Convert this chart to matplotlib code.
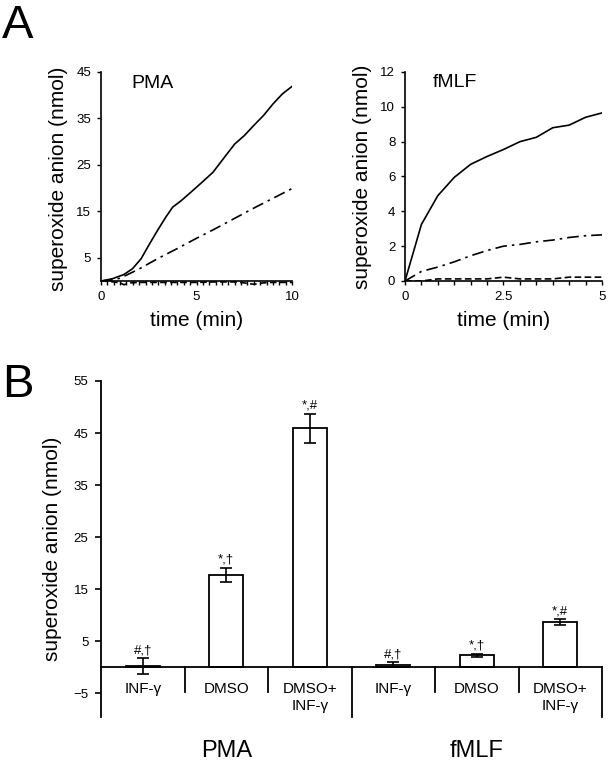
import numpy as np
import matplotlib
matplotlib.use("Agg")
import matplotlib.pyplot as plt
from matplotlib.ticker import MultipleLocator

plt.rcParams['font.family'] = ['Liberation Sans', 'DejaVu Sans']

# === Panel A data
pma_time = [0, 0.6, 1.2, 1.65, 2.1, 2.5, 2.96, 3.4, 3.75, 4.2, 4.7, 5.3, 5.86,
            6.4, 7.0, 7.5, 8.0, 8.5, 9.0, 9.5, 10]
pma_combo = [0, 0.5, 1.4, 2.65, 4.8, 7.7, 10.9, 13.8, 15.9, 17.3, 19.1, 21.3, 23.4,
             26.3, 29.5, 31.3, 33.5, 35.6, 38.1, 40.3, 41.9]
pma_dmso_time = [0, 0.5, 1, 2, 3, 4, 5, 6, 7, 8, 9, 10]
pma_dmso = [0, 0.2, 0.6, 2.6, 4.9, 7.0, 9.2, 11.3, 13.5, 15.7, 17.8, 19.9]
pma_inf_time = [0, 0.5, 1.0, 1.2, 1.5, 2, 3, 4, 5, 6, 7, 7.5, 8, 8.5, 9, 10]
pma_inf = [0, -0.1, -0.4, -0.8, -0.4, -0.3, -0.3, -0.3, -0.3, -0.2, -0.2, -0.4, -0.7, -0.4, -0.3, -0.3]

fmlf_time = [0, 0.417, 0.833, 1.25, 1.667, 2.083, 2.5, 2.917, 3.333, 3.75, 4.167, 4.583, 5]
fmlf_combo = [0, 3.25, 4.9, 5.95, 6.7, 7.15, 7.55, 8.0, 8.25, 8.8, 8.95, 9.4, 9.65]
fmlf_dmso = [0, 0.55, 0.8, 1.1, 1.45, 1.75, 2.0, 2.1, 2.25, 2.35, 2.5, 2.6, 2.65]
fmlf_inf = [0, 0.0, 0.12, 0.12, 0.12, 0.12, 0.22, 0.12, 0.12, 0.12, 0.22, 0.22, 0.22]

# === Panel B data
groups = ["PMA", "fMLF"]
treatments = ["INF-\u03b3", "DMSO", "DMSO+\nINF-\u03b3"]
bar_means = [0.2, 17.7, 45.9, 0.45, 2.25, 8.6]
bar_errs = [1.5, 1.4, 2.8, 0.5, 0.25, 0.6]
bar_marks = ["#,\u2020", "*,\u2020", "*,#", "#,\u2020", "*,\u2020", "*,#"]

fig = plt.figure(figsize=(6.09, 7.67), dpi=100)

lw = 1.2
dashdot = (0, (7, 3, 1.5, 3))
dashed = (0, (4, 2))


def style_line_axes(ax, ymax):
    for s in ["top", "right"]:
        ax.spines[s].set_visible(False)
    ax.spines["bottom"].set_position(("data", 0))
    ax.spines["left"].set_bounds(0, ymax)
    ax.spines["left"].set_linewidth(1.2)
    ax.spines["bottom"].set_linewidth(1.2)
    ax.tick_params(direction="out", length=3, width=1, labelsize=9.5, pad=4)
    ax.tick_params(axis="x", which="minor", direction="out", length=3, width=1)
    ax.set_xlabel("time (min)", fontsize=15, labelpad=6)
    ax.set_ylabel("superoxide anion (nmol)", fontsize=15, labelpad=6)


# --- A left: PMA
ax1 = fig.add_axes([101 / 609, 1 - 286.6 / 767, 191 / 609, 214.6 / 767])
ax1.plot(pma_time, pma_combo, color="black", lw=lw)
ax1.plot(pma_dmso_time, pma_dmso, color="black", lw=lw, linestyle=dashdot)
ax1.plot(pma_inf_time, pma_inf, color="black", lw=lw, linestyle=dashed)
ax1.set_xlim(0, 10)
ax1.set_ylim(-1.2, 45)
ax1.set_yticks([5, 15, 25, 35, 45])
ax1.set_xticks([0, 5, 10])
ax1.xaxis.set_minor_locator(MultipleLocator(1 / 3))
style_line_axes(ax1, 45)
ax1.text(2.7, 42.5, "PMA", fontsize=14, va="center", ha="center")

# --- A right: fMLF
ax2 = fig.add_axes([405 / 609, 1 - 281 / 767, 197 / 609, 209 / 767])
ax2.plot(fmlf_time, fmlf_combo, color="black", lw=lw)
ax2.plot(fmlf_time, fmlf_dmso, color="black", lw=lw, linestyle=dashdot)
ax2.plot(fmlf_time, fmlf_inf, color="black", lw=lw, linestyle=dashed)
ax2.set_xlim(0, 5)
ax2.set_ylim(0, 12)
ax2.set_yticks(range(0, 13, 2))
ax2.set_xticks([0, 2.5, 5])
ax2.set_xticklabels(["0", "2.5", "5"])
ax2.xaxis.set_minor_locator(MultipleLocator(5 / 12))
style_line_axes(ax2, 12)
ax2.text(1.27, 11.4, "fMLF", fontsize=14, va="center", ha="center")

# --- B: bar chart
axb = fig.add_axes([101 / 609, 1 - 717 / 767, 501 / 609, 336 / 767])
x = np.arange(len(bar_means)) + 0.5
axb.bar(x, bar_means, width=0.41, color="white", edgecolor="black", linewidth=1.3)
axb.errorbar(x, bar_means, yerr=bar_errs, fmt="none", ecolor="black",
             elinewidth=1.2, capsize=4, capthick=1.2)
for xi, m, e, t in zip(x, bar_means, bar_errs, bar_marks):
    axb.text(xi, m + e + 0.4, t, fontsize=9.5, ha="center", va="bottom")

axb.set_xlim(0, 6)
axb.set_ylim(-9.6, 55)
for s in ["top", "right"]:
    axb.spines[s].set_visible(False)
axb.spines["bottom"].set_position(("data", 0))
axb.spines["bottom"].set_linewidth(1.3)
axb.spines["left"].set_linewidth(1.3)
axb.set_xticks([])
axb.set_yticks(range(-5, 56, 10))
axb.tick_params(axis="y", direction="out", length=4, width=1.2, labelsize=9.5, pad=5)
axb.set_ylabel("superoxide anion (nmol)", fontsize=15, labelpad=8)

# dividers below the zero line
for d in [1, 2, 4, 5]:
    axb.plot([d, d], [0, -4.8], color="black", lw=1.3)
for d in [3, 6]:
    axb.plot([d, d], [0, -9.6], color="black", lw=1.3, clip_on=False)

labels = treatments * len(groups)
for xi, lab in zip(x, labels):
    axb.text(xi, -2.9, lab, fontsize=11, ha="center", va="top", linespacing=1.25)
for gi, g in enumerate(groups):
    axb.text(1.5 + 3 * gi, -16.2, g, fontsize=17, ha="center", va="center", clip_on=False)

fig.text(2 / 609, 1 - 38 / 767, "A", fontsize=34, va="baseline", ha="left")
fig.text(2 / 609, 1 - 397 / 767, "B", fontsize=34, va="baseline", ha="left")

fig.savefig("out.png", dpi=100)
